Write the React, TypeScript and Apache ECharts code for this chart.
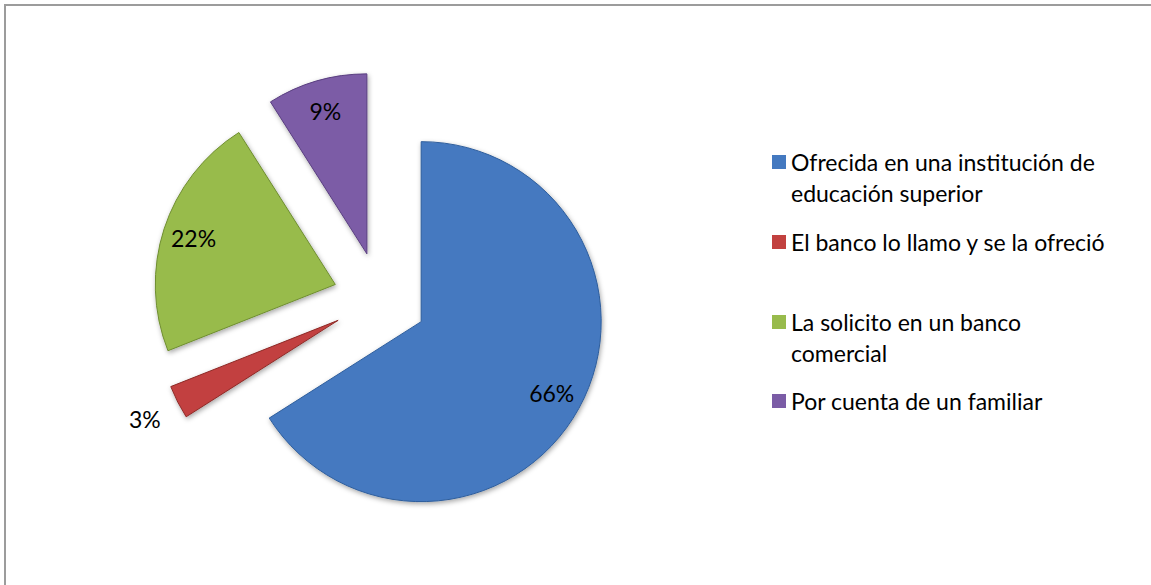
import React, { useEffect, useRef } from "react";
import * as echarts from "echarts";

const categories = [
  "Ofrecida en una institución de educación superior",
  "El banco lo llamo y se la ofreció",
  "La solicito en un banco comercial",
  "Por cuenta de un familiar",
];
const legendLines = [
  ["Ofrecida en una institución de", "educación superior"],
  ["El banco lo llamo y se la ofreció"],
  ["La solicito en un banco", "comercial"],
  ["Por cuenta de un familiar"],
];
const values = [66, 3, 22, 9];
const colors = ["#4479c0", "#c2413f", "#98bb4c", "#7b5ca6"];
const borderColors = ["#2f5e9c", "#8e2a28", "#6f8e30", "#5a3f80"];
const insideLabelIdx = [0, 2, 3];
const outsideLabelIdx = [1];

const FONT = "Lato, 'Open Sans', sans-serif";
const CENTER = [380, 299];
const R = 180;
const OFFSET = 47;

export default function App() {
  const ref = useRef<HTMLDivElement>(null);
  useEffect(() => {
    if (!ref.current) return;
    const chart = echarts.init(ref.current, undefined, { renderer: "svg" });

    const mainData = categories.map((name, i) => ({
      name,
      value: values[i],
      selected: true,
      itemStyle: {
        color: colors[i],
        borderColor: borderColors[i],
        borderWidth: 1,
        shadowBlur: 5,
        shadowColor: "rgba(0,0,0,0.35)",
        shadowOffsetX: 1,
        shadowOffsetY: 2,
      },
    }));

    const overlay = (idxs: number[], radius: number) => ({
      type: "pie",
      silent: true,
      center: CENTER,
      radius: [0, radius],
      startAngle: 90,
      clockwise: true,
      selectedMode: "multiple",
      selectedOffset: OFFSET,
      avoidLabelOverlap: false,
      z: 5,
      emphasis: { disabled: true },
      labelLine: { show: false },
      data: values.map((v, i) => ({
        name: "lbl" + i,
        value: v,
        selected: true,
        itemStyle: { color: "rgba(0,0,0,0)", borderWidth: 0 },
        label: {
          show: idxs.indexOf(i) >= 0,
          position: "inside",
          formatter: "{c}%",
          color: "#000",
          fontSize: 23,
          fontFamily: FONT,
        },
      })),
    });

    const legendCenters = [162, 242, 322, 401];
    const legends = categories.map((name, i) => {
      const lines = legendLines[i];
      const text = lines.length > 1 ? " \n" + lines.join("\n") : lines[0];
      const h = (lines.length > 1 ? 3 : 1) * 31;
      return {
        orient: "vertical",
        left: 772,
        top: legendCenters[i] - h / 2,
        padding: 0,
        itemWidth: 14,
        itemHeight: 14,
        icon: "rect",
        selectedMode: false,
        data: [name],
        formatter: () => text,
        itemStyle: { borderWidth: 0, shadowBlur: 0 },
        textStyle: {
          fontSize: 23,
          lineHeight: 31,
          fontFamily: FONT,
          color: "#000",
        },
      };
    });

    chart.setOption({
      animation: false,
      backgroundColor: "#ffffff",
      legend: legends,
      graphic: [
        {
          type: "rect",
          shape: { x: 5, y: 5, width: 1300, height: 700 },
          style: { fill: "none", stroke: "#9c9c9c", lineWidth: 2 },
          silent: true,
        },
      ],
      series: [
        {
          type: "pie",
          center: CENTER,
          radius: [0, R],
          startAngle: 90,
          clockwise: true,
          selectedMode: "multiple",
          selectedOffset: OFFSET,
          label: { show: false },
          labelLine: { show: false },
          emphasis: { disabled: true },
          data: mainData,
        },
        overlay(insideLabelIdx, 292),
        overlay(outsideLabelIdx, 428),
      ],
    });
    return () => chart.dispose();
  }, []);
  return (
    <div
      ref={ref}
      style={{ position: "fixed", left: 0, top: 0, width: 1151, height: 585 }}
    />
  );
}
